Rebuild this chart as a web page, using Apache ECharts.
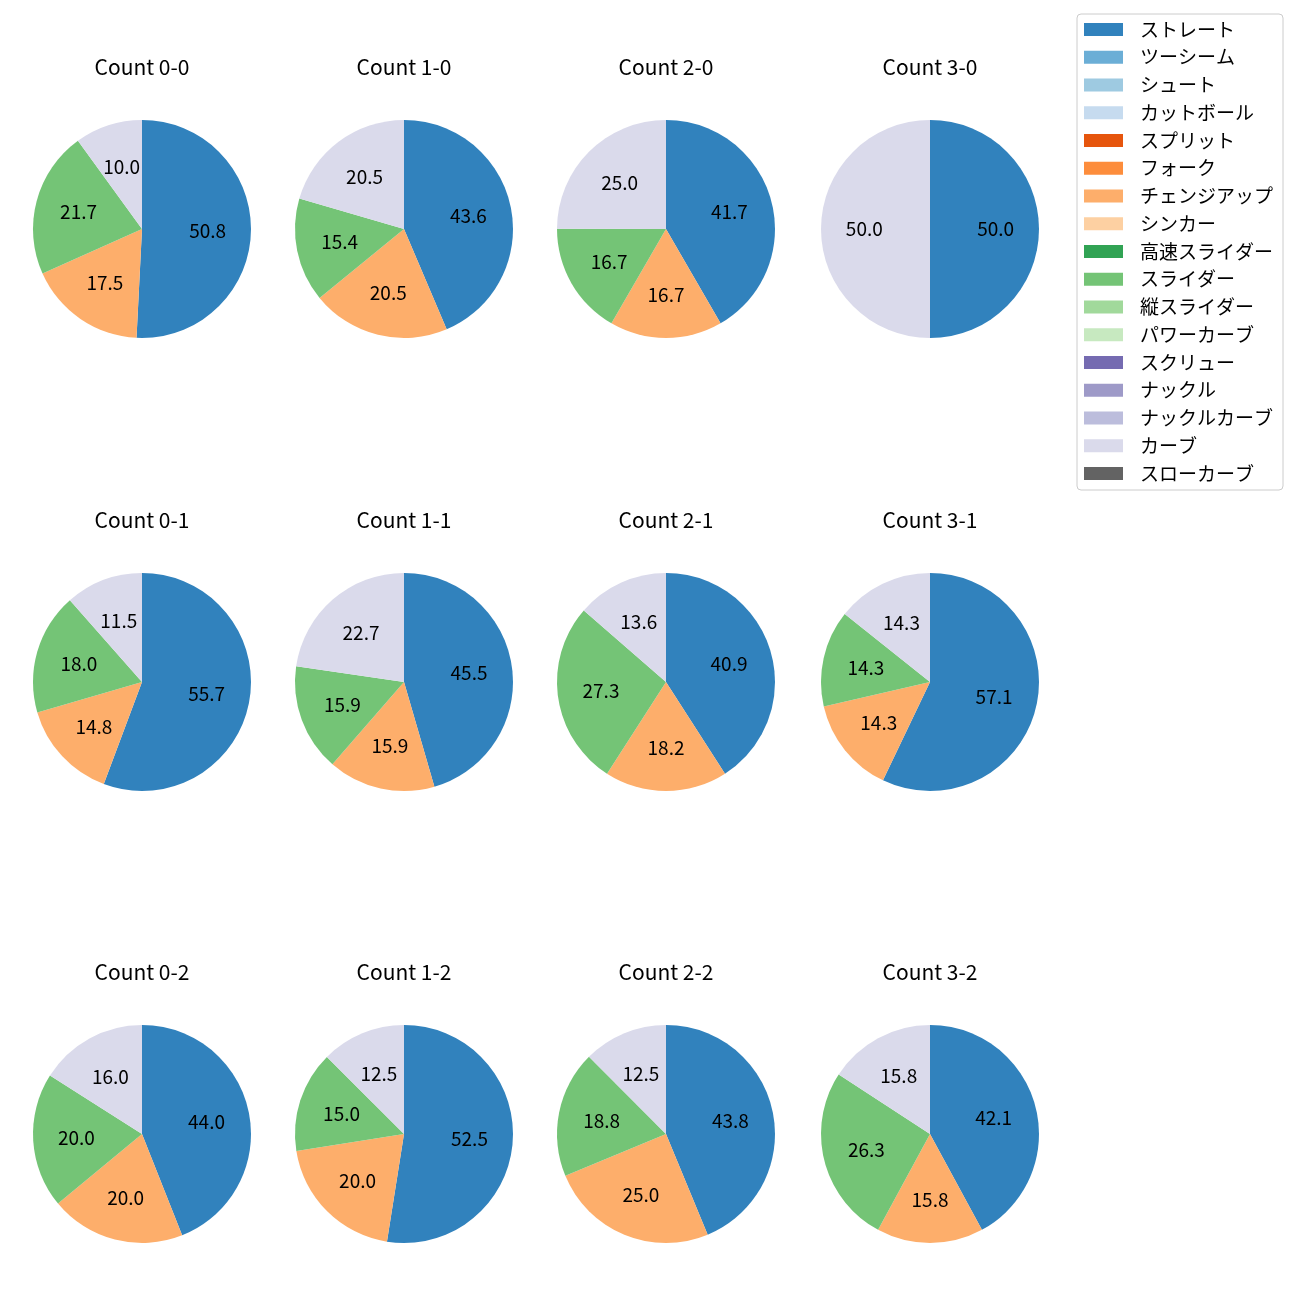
<!DOCTYPE html>
<html>
<head>
<meta charset="utf-8">
<script src="https://cdn.jsdelivr.net/npm/echarts@6/dist/echarts.min.js"></script>
<style>html,body{margin:0;padding:0;background:#fff}#c{width:1300px;height:1300px}</style>
</head>
<body>
<div id="c"></div>
<script>
// Pitch categories (legend order) and colours
const categories = ['ストレート','ツーシーム','シュート','カットボール','スプリット','フォーク','チェンジアップ','シンカー','高速スライダー','スライダー','縦スライダー','パワーカーブ','スクリュー','ナックル','ナックルカーブ','カーブ','スローカーブ'];
const colors = ['#3182bd','#6baed6','#9ecae1','#c6dbef','#e6550d','#fd8d3c','#fdae6b','#fdd0a2','#31a354','#74c476','#a1d99b','#c7e9c0','#756bb1','#9e9ac8','#bcbddc','#dadaeb','#636363'];

// Counts (panel titles), row by row
const counts = ['0-0','1-0','2-0','3-0','0-1','1-1','2-1','3-1','0-2','1-2','2-2','3-2'];
// Share (%) per count: ストレート, チェンジアップ, スライダー, カーブ
const straight  = [50.8, 43.6, 41.7, 50.0, 55.7, 45.5, 40.9, 57.1, 44.0, 52.5, 43.8, 42.1];
const changeup  = [17.5, 20.5, 16.7,  0.0, 14.8, 15.9, 18.2, 14.3, 20.0, 20.0, 25.0, 15.8];
const slider    = [21.7, 15.4, 16.7,  0.0, 18.0, 15.9, 27.3, 14.3, 20.0, 15.0, 18.8, 26.3];
const curve     = [10.0, 20.5, 25.0, 50.0, 11.5, 22.7, 13.6, 14.3, 16.0, 12.5, 12.5, 15.8];

const FONT = '"Noto Sans CJK JP", "Noto Sans", sans-serif';
const colX = [142, 404, 666, 930];
const rowY = [229, 682, 1134];
const titleY = [68, 521, 973];
const R = 109;

const colorOf = n => colors[categories.indexOf(n)];

const series = [];
// legend provider series (invisible)
series.push({
  type: 'pie', silent: true, center: [-500, -500], radius: [0, 1],
  label: {show: false}, labelLine: {show: false},
  data: categories.map((n, i) => ({name: n, value: 1, itemStyle: {color: colors[i]}}))
});

const titles = [];
counts.forEach((c, k) => {
  const cx = colX[k % 4], cy = rowY[Math.floor(k / 4)];
  const data = [
    {name: 'ストレート', value: straight[k]},
    {name: 'チェンジアップ', value: changeup[k]},
    {name: 'スライダー', value: slider[k]},
    {name: 'カーブ', value: curve[k]}
  ].filter(d => d.value > 0);
  series.push({
    type: 'pie', center: [cx, cy], radius: [0, R], startAngle: 90, clockwise: true,
    silent: true, animation: false,
    label: {show: false}, labelLine: {show: false},
    itemStyle: {borderWidth: 0},
    data: data.map(d => ({name: d.name, value: d.value, itemStyle: {color: colorOf(d.name)}}))
  });
  // label overlay placing labels at about 0.6 r
  series.push({
    type: 'pie', center: [cx, cy], radius: [R * 0.15, R], startAngle: 90, clockwise: true,
    silent: true, animation: false, avoidLabelOverlap: false,
    itemStyle: {color: 'rgba(0,0,0,0)', borderWidth: 0},
    label: {show: true, position: 'inside', color: '#000', fontFamily: FONT, fontSize: 19,
      formatter: p => p.value.toFixed(1)},
    labelLine: {show: false},
    data: data.map(d => ({name: d.name, value: d.value}))
  });
  titles.push({
    text: 'Count ' + c, left: cx, top: titleY[Math.floor(k / 4)] - 11, textAlign: 'center',
    padding: 0,
    textStyle: {fontFamily: FONT, fontSize: 21, fontWeight: 'normal', color: '#000'}
  });
});

const chart = echarts.init(document.getElementById('c'), null, {renderer: 'canvas'});
chart.setOption({
  animation: false,
  backgroundColor: '#fff',
  title: titles,
  legend: {
    orient: 'vertical', left: 1077, top: 14, data: categories,
    icon: 'rect', itemWidth: 39, itemHeight: 13, itemGap: 8.75,
    padding: [6, 10, 7, 7],
    borderColor: '#cccccc', borderWidth: 1, borderRadius: 4,
    selectedMode: false,
    textStyle: {fontFamily: FONT, fontSize: 19, color: '#000', padding: [0, 0, 0, 12]}
  },
  series: series
});
</script>
</body>
</html>
